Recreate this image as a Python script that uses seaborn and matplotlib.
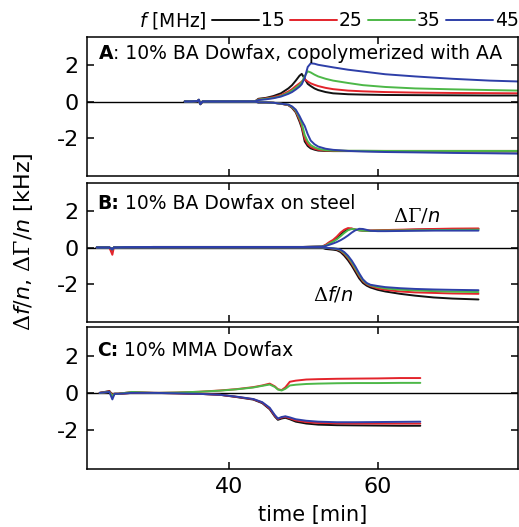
import numpy as np
import pandas as pd
import matplotlib
matplotlib.use("Agg")
import matplotlib.pyplot as plt
from matplotlib.lines import Line2D
import seaborn as sns

# ---------------- data (kHz vs. time in min) ----------------
freqs = [15, 25, 35, 45]
colors = {15: "#111111", 25: "#e3242b", 35: "#4db848", 45: "#2e3fa8"}

# Panel A: 10% BA Dowfax, copolymerized with AA
t_a = [34.1, 35.0, 35.8, 36.0, 36.2, 36.5, 38.0, 40.0, 42.0, 43.5, 44.0, 45.0,
       46.0, 47.0, 48.0, 48.5, 49.0, 49.5, 49.8, 50.2, 50.6, 51.0, 51.5, 52.0,
       53.0, 54.0, 56.0, 58.0, 61.0, 65.0, 70.0, 75.0, 79.0]
gam_a = {
    15: [0, 0, 0.02, 0.10, -0.12, 0, 0, 0, 0, 0, 0.15, 0.20, 0.30, 0.45, 0.72, 0.90,
         1.15, 1.42, 1.52, 1.25, 0.97, 0.85, 0.72, 0.63, 0.52, 0.45, 0.40, 0.38,
         0.36, 0.35, 0.34, 0.33, 0.33],
    25: [0, 0, 0.02, 0.08, -0.10, 0, 0, 0, 0, 0, 0.12, 0.17, 0.24, 0.35, 0.55, 0.68,
         0.85, 1.00, 1.10, 1.22, 1.10, 1.00, 0.92, 0.85, 0.75, 0.68, 0.60, 0.56,
         0.52, 0.49, 0.47, 0.46, 0.45],
    35: [0, 0, 0.02, 0.08, -0.10, 0, 0, 0, 0, 0, 0.10, 0.15, 0.20, 0.30, 0.48, 0.60,
         0.75, 0.92, 1.05, 1.40, 1.66, 1.60, 1.48, 1.38, 1.25, 1.15, 1.02, 0.90,
         0.80, 0.72, 0.67, 0.63, 0.60],
    45: [0, 0, 0.02, 0.10, -0.12, 0, 0, 0, 0, 0, 0.08, 0.12, 0.18, 0.27, 0.42, 0.52,
         0.66, 0.82, 0.95, 1.30, 1.90, 2.10, 2.08, 2.02, 1.95, 1.88, 1.75, 1.65,
         1.50, 1.38, 1.25, 1.15, 1.10],
}
df_a = {
    15: [0, 0, 0.02, 0.05, -0.15, 0, 0, 0, 0, 0, -0.05, -0.05, -0.07, -0.12, -0.20,
         -0.35, -0.60, -1.10, -1.45, -2.20, -2.45, -2.58, -2.65, -2.70, -2.72, -2.73,
         -2.73, -2.73, -2.74, -2.74, -2.74, -2.75, -2.75],
    25: [0, 0, 0.02, 0.05, -0.15, 0, 0, 0, 0, 0, -0.05, -0.05, -0.07, -0.12, -0.20,
         -0.32, -0.55, -1.00, -1.35, -2.05, -2.35, -2.50, -2.60, -2.66, -2.70, -2.71,
         -2.72, -2.72, -2.72, -2.72, -2.72, -2.72, -2.72],
    35: [0, 0, 0.02, 0.05, -0.15, 0, 0, 0, 0, 0, -0.05, -0.05, -0.07, -0.12, -0.18,
         -0.30, -0.50, -0.90, -1.20, -1.85, -2.20, -2.40, -2.52, -2.60, -2.68, -2.70,
         -2.71, -2.71, -2.72, -2.72, -2.72, -2.72, -2.72],
    45: [0, 0, 0.02, 0.05, -0.15, 0, 0, 0, 0, 0, -0.05, -0.05, -0.07, -0.12, -0.17,
         -0.27, -0.45, -0.80, -1.05, -1.35, -1.80, -2.15, -2.35, -2.48, -2.60, -2.66,
         -2.72, -2.75, -2.78, -2.80, -2.83, -2.85, -2.87],
}

# Panel B: 10% BA Dowfax on steel
t_b = [22.3, 24.0, 24.4, 24.6, 25.0, 26.0, 30.0, 35.0, 40.0, 45.0, 50.0, 52.5,
       53.0, 53.5, 54.0, 54.5, 55.0, 55.5, 56.0, 56.5, 57.0, 57.5, 58.0, 58.5,
       59.0, 60.0, 61.0, 63.0, 65.0, 67.5, 70.0, 73.5]
gam_b = {
    15: [0, 0, -0.10, 0, 0, 0.02, 0.03, 0.03, 0.03, 0.03, 0.03, 0.05, 0.12, 0.25,
         0.35, 0.50, 0.70, 0.88, 1.00, 1.03, 0.98, 0.95, 0.93, 0.92, 0.92, 0.93,
         0.94, 0.96, 0.98, 1.00, 1.01, 1.02],
    25: [0, 0, -0.40, 0, 0, 0.02, 0.03, 0.03, 0.03, 0.03, 0.03, 0.05, 0.15, 0.30,
         0.42, 0.60, 0.82, 0.98, 1.07, 1.05, 0.98, 0.95, 0.94, 0.94, 0.94, 0.95,
         0.96, 0.98, 1.00, 1.02, 1.04, 1.05],
    35: [0, 0, -0.10, 0, 0, 0.02, 0.03, 0.03, 0.03, 0.03, 0.03, 0.05, 0.10, 0.22,
         0.32, 0.45, 0.62, 0.80, 0.95, 1.02, 1.00, 0.95, 0.93, 0.92, 0.92, 0.93,
         0.93, 0.94, 0.95, 0.96, 0.97, 0.98],
    45: [0, 0, -0.10, 0, 0, 0.02, 0.03, 0.03, 0.03, 0.03, 0.03, 0.05, 0.08, 0.15,
         0.22, 0.30, 0.40, 0.52, 0.66, 0.82, 0.95, 1.03, 1.02, 0.97, 0.92, 0.90,
         0.90, 0.91, 0.92, 0.93, 0.93, 0.93],
}
df_b = {
    15: [0, 0, -0.15, 0, 0, 0, 0, 0, 0, 0, 0, 0, -0.08, -0.10, -0.12, -0.15, -0.25,
         -0.45, -0.70, -1.00, -1.35, -1.70, -1.95, -2.10, -2.20, -2.33, -2.42, -2.55,
         -2.65, -2.75, -2.81, -2.86],
    25: [0, 0, -0.15, 0, 0, 0, 0, 0, 0, 0, 0, 0, -0.02, -0.04, -0.06, -0.10, -0.18,
         -0.35, -0.58, -0.88, -1.22, -1.57, -1.85, -2.02, -2.12, -2.25, -2.33, -2.42,
         -2.47, -2.50, -2.53, -2.55],
    35: [0, 0, -0.10, 0, 0, 0, 0, 0, 0, 0, 0, 0, -0.02, -0.03, -0.05, -0.08, -0.15,
         -0.30, -0.52, -0.80, -1.15, -1.50, -1.80, -1.98, -2.08, -2.18, -2.25, -2.32,
         -2.36, -2.40, -2.43, -2.45],
    45: [0, 0, -0.10, 0, 0, 0, 0, 0, 0, 0, 0, 0, -0.02, -0.03, -0.05, -0.07, -0.12,
         -0.25, -0.45, -0.72, -1.05, -1.42, -1.75, -1.95, -2.05, -2.12, -2.18, -2.24,
         -2.28, -2.31, -2.33, -2.35],
}

# Panel C: 10% MMA Dowfax
t_c = [22.7, 24.0, 24.4, 24.7, 25.2, 27.0, 30.0, 33.0, 36.0, 38.8, 41.0, 43.3,
       44.5, 45.5, 46.2, 46.6, 47.1, 47.6, 48.2, 49.0, 50.4, 52.0, 54.5, 57.0,
       60.0, 63.0, 65.7]
gam_c = {
    25: [0, 0.05, -0.20, -0.05, -0.05, 0.05, 0.00, 0.02, 0.06, 0.13, 0.20, 0.31,
         0.40, 0.50, 0.35, 0.20, 0.15, 0.30, 0.60, 0.66, 0.72, 0.74, 0.76, 0.77,
         0.78, 0.80, 0.80],
    35: [0, 0.05, -0.15, -0.05, -0.05, 0.05, 0.00, 0.02, 0.06, 0.12, 0.19, 0.29,
         0.38, 0.45, 0.32, 0.18, 0.13, 0.22, 0.40, 0.44, 0.48, 0.50, 0.52, 0.53,
         0.53, 0.54, 0.54],
}
df_c = {
    15: [0, 0.10, -0.10, -0.05, -0.05, 0, 0, -0.02, -0.05, -0.10, -0.22, -0.36,
         -0.55, -0.88, -1.28, -1.45, -1.38, -1.34, -1.42, -1.55, -1.65, -1.71,
         -1.74, -1.75, -1.76, -1.77, -1.77],
    25: [0, 0.08, -0.10, -0.05, -0.05, 0, 0, -0.02, -0.05, -0.10, -0.21, -0.34,
         -0.52, -0.84, -1.24, -1.40, -1.33, -1.29, -1.37, -1.48, -1.57, -1.62,
         -1.64, -1.65, -1.65, -1.65, -1.65],
    45: [0, 0.05, -0.35, -0.05, -0.05, 0, 0, -0.02, -0.05, -0.10, -0.20, -0.33,
         -0.50, -0.80, -1.20, -1.38, -1.30, -1.26, -1.32, -1.42, -1.50, -1.55,
         -1.58, -1.58, -1.57, -1.56, -1.55],
}

panel_tags = ["A", "B:", "C:"]
panel_texts = [": 10% BA Dowfax, copolymerized with AA",
               " 10% BA Dowfax on steel",
               " 10% MMA Dowfax"]


def long_form(t, gam, dfq):
    rows = []
    for qty, series in (("gamma", gam), ("df", dfq)):
        for f, vals in series.items():
            for ti, v in zip(t, vals):
                rows.append({"time": ti, "value": v, "freq": f, "qty": qty})
    return pd.DataFrame(rows)


panels = [long_form(t_a, gam_a, df_a),
          long_form(t_b, gam_b, df_b),
          long_form(t_c, gam_c, df_c)]

# ---------------- style ----------------
sns.set_theme(style="ticks")
plt.rcParams["font.family"] = ["DejaVu Sans"]
plt.rcParams["text.color"] = "black"
plt.rcParams["axes.labelcolor"] = "black"
plt.rcParams["mathtext.fontset"] = "custom"
plt.rcParams["mathtext.rm"] = "DejaVu Serif"
plt.rcParams["mathtext.it"] = "DejaVu Sans:italic"
plt.rcParams["mathtext.bf"] = "DejaVu Sans:bold"

fig = plt.figure(figsize=(5.19, 5.27), dpi=100)
W, H = 519, 527
boxes = [(87, 37, 518, 176), (87, 183, 518, 322), (87, 327, 518, 469)]
axes = []
for (x0, y0, x1, y1) in boxes:
    ax = fig.add_axes([x0 / W, 1 - y1 / H, (x1 - x0) / W, (y1 - y0) / H])
    axes.append(ax)

title_pos = [(0.027, 0.845), (0.023, 0.815), (0.023, 0.795)]

for i, (ax, data) in enumerate(zip(axes, panels)):
    ax.axhline(0, color="black", lw=1.0, zorder=1)
    sns.lineplot(data=data, x="time", y="value", hue="freq", units="qty",
                 estimator=None, sort=False, palette=colors, legend=False,
                 lw=1.4, ax=ax, zorder=2)
    ax.set_xlim(21, 78.8)
    ax.set_ylim(-4.1, 3.55)
    ax.set_xticks([40, 60])
    ax.set_yticks([-2, 0, 2])
    ax.set_yticklabels(["-2", "0", "2"])
    ax.tick_params(direction="in", length=5, width=1.1, top=True, right=True,
                   labelsize=16, pad=6, colors="black")
    for sp in ax.spines.values():
        sp.set_linewidth(1.1)
        sp.set_color("black")
    ax.set_xlabel("")
    ax.set_ylabel("")
    if i < 2:
        ax.tick_params(labelbottom=False)
    tag = ax.text(title_pos[i][0], title_pos[i][1], panel_tags[i],
                  transform=ax.transAxes, fontsize=13.5, fontweight="bold",
                  va="baseline", ha="left")
    ax.annotate(panel_texts[i], xy=(1, 0), xycoords=tag, fontsize=13.5,
                va="bottom", ha="left")

# quantity labels in panel B
axes[1].text(65.2, 1.72, r"$\Delta\Gamma/n$", fontsize=14, ha="center", va="center")
axes[1].text(54.0, -2.58, r"$\Delta f/n$", fontsize=14, ha="center", va="center")

fig.text(0.046, 0.541, r"$\Delta f/n$, $\Delta\Gamma/n$ [kHz]", rotation=90,
         fontsize=16, ha="center", va="center")
fig.text(0.603, 0.022, "time [min]", fontsize=15, ha="center", va="center")

handles = [Line2D([], [], color="none")] + \
          [Line2D([], [], color=colors[f], lw=1.4) for f in freqs]
labels = ["$f$ [MHz]"] + [str(f) for f in freqs]
fig.legend(handles, labels, ncol=5, loc="center right",
           bbox_to_anchor=(1.0, 1 - 20.5 / H), frameon=False, fontsize=13.5,
           handlelength=2.5, handletextpad=0.1, columnspacing=0.3,
           borderpad=0, borderaxespad=0)

fig.savefig("out.png", dpi=100)
